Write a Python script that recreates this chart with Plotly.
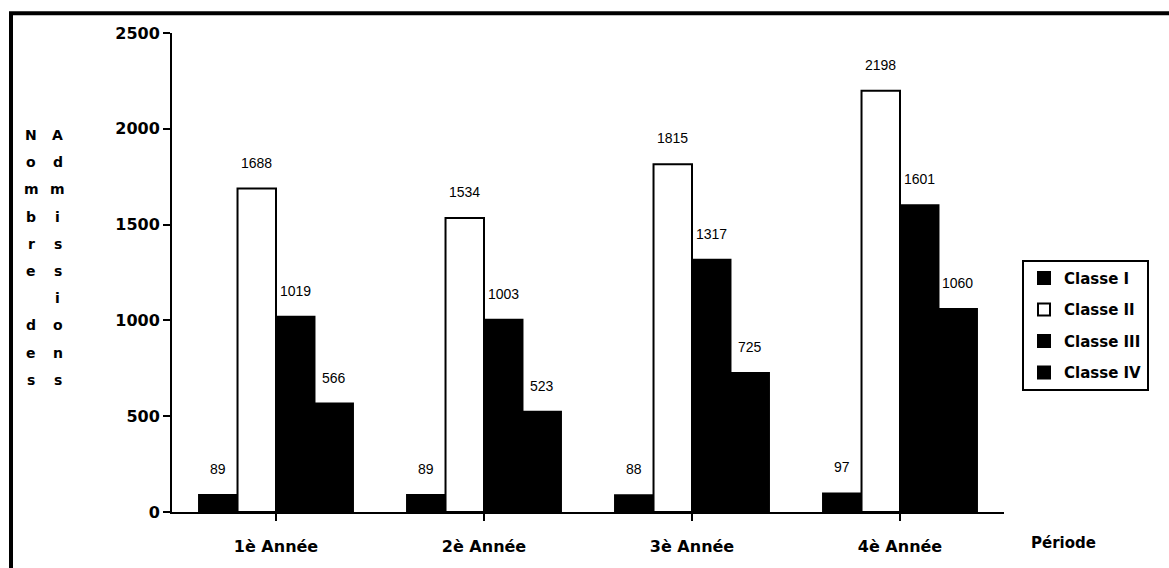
import plotly.graph_objects as go

# Admissions per year and class
periodes = ["1è Année", "2è Année", "3è Année", "4è Année"]
classes = ["Classe I", "Classe II", "Classe III", "Classe IV"]
classe_1 = [89, 89, 88, 97]
classe_2 = [1688, 1534, 1815, 2198]
classe_3 = [1019, 1003, 1317, 1601]
classe_4 = [566, 523, 725, 1060]
y_ticks = [0, 500, 1000, 1500, 2000, 2500]
y_title_cols = ["Nombre des", "Admissions"]

series = [classe_1, classe_2, classe_3, classe_4]
fills = ["black", "white", "black", "black"]

BOLD = "DejaVu Sans"
REG = "Liberation Sans, Arial"

W, H = 1169, 568
L, R, T, B = 172, 165, 33, 51
PW, PH = W - L - R, H - T - B

fig = go.Figure()
for i, (name, vals, col) in enumerate(zip(classes, series, fills)):
    fig.add_trace(go.Bar(
        x=list(range(len(periodes))), y=vals, name=name,
        marker=dict(color=col, line=dict(color="black", width=2)),
        legendgroup=name,
    ))

# value labels above each bar
n = len(classes)
bar_w = PW / len(periodes) * (1 - 0.26) / n
for i, vals in enumerate(series):
    for j, v in enumerate(vals):
        fig.add_annotation(
            x=j, y=v, xref="x", yref="y", text=str(v), showarrow=False,
            xshift=(i - (n - 1) / 2) * bar_w, yshift=16, yanchor="bottom",
            font=dict(family=REG, size=14, color="black"),
        )

# stacked vertical y-axis title, one letter per row
col_x = [31, 58]
row_y0, row_dy = 136, 27.5
for c, word in enumerate(y_title_cols):
    for r, ch in enumerate(word):
        if ch == " ":
            continue
        fig.add_annotation(
            x=(col_x[c] - L) / PW, y=(H - B - (row_y0 + r * row_dy)) / PH,
            xref="paper", yref="paper", text=ch, showarrow=False,
            xanchor="center", yanchor="middle",
            font=dict(family=BOLD, size=14, color="black", weight="bold"),
        )

fig.add_annotation(
    x=(1063 - L) / PW, y=(H - B - 548) / PH, xref="paper", yref="paper",
    text="Période", showarrow=False, xanchor="center", yanchor="middle",
    font=dict(family=BOLD, size=15, color="black", weight="bold"),
)

# outer frame (right and bottom edges lie beyond the page)
fig.add_shape(
    type="rect", xref="paper", yref="paper",
    x0=(11 - L) / PW, x1=(1185 - L) / PW,
    y0=(H - B - 590) / PH, y1=(H - B - 13) / PH,
    line=dict(color="black", width=4), fillcolor="rgba(0,0,0,0)",
)

fig.update_layout(
    width=W, height=H,
    margin=dict(l=L, r=R, t=T, b=B),
    paper_bgcolor="white", plot_bgcolor="white",
    barmode="group", bargap=0.26, bargroupgap=0,
    showlegend=True,
    legend=dict(
        x=(1022 - L) / PW, y=(H - B - 262) / PH, xanchor="left", yanchor="top",
        bordercolor="black", borderwidth=2, bgcolor="white",
        font=dict(family=BOLD, size=15, color="black", weight="bold"),
        tracegroupgap=9, itemwidth=30,
    ),
    xaxis=dict(
        range=[-0.5, 3.5], tickmode="array",
        tickvals=list(range(len(periodes))), ticktext=periodes,
        tickson="boundaries", ticks="outside", ticklen=7, tickwidth=2,
        tickcolor="black", showline=True, linecolor="black", linewidth=2,
        showgrid=False, zeroline=False, ticklabelstandoff=12,
        tickfont=dict(family=BOLD, size=16, color="black", weight="bold"),
    ),
    yaxis=dict(
        range=[0, 2500], tickvals=y_ticks, ticks="outside", ticklen=7,
        tickwidth=2, tickcolor="black", showline=True, linecolor="black",
        linewidth=2, showgrid=False, zeroline=False,
        tickfont=dict(family=BOLD, size=16, color="black", weight="bold"),
    ),
)

fig.write_html("out.html")
